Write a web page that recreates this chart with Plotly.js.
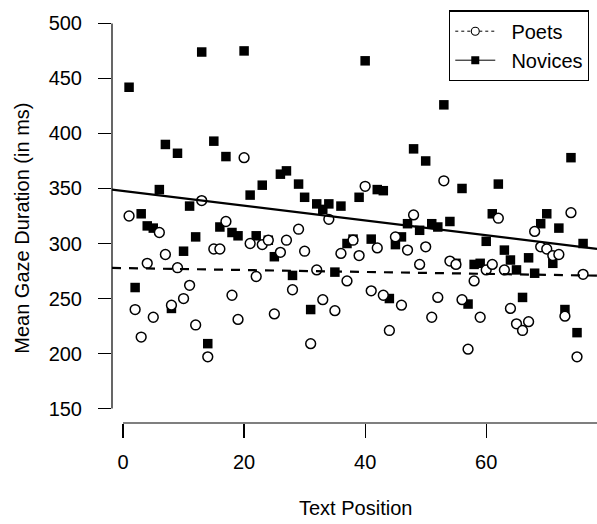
<!DOCTYPE html>
<html>
<head>
<meta charset="utf-8">
<script src="https://cdn.plot.ly/plotly-3.0.1.min.js"></script>
<style>html,body{margin:0;padding:0;background:#fff;}#chart{width:597px;height:524px;}</style>
</head>
<body>
<div id="chart"></div>
<script>
// ---- data ----
var positions = [];
for (var i = 1; i <= 76; i++) positions.push(i);

var poets = [325,240,215,282,233,310,290,244,278,250,
             262,226,339,197,295,295,320,253,231,378,
             300,270,299,303,236,292,303,258,313,293,
             209,276,249,322,239,291,266,303,289,352,
             257,296,253,221,306,244,294,326,281,297,
             233,251,357,284,281,249,204,266,233,276,
             281,323,276,241,227,221,229,311,297,295,
             289,290,234,328,197,272];

var novices = [442,260,327,316,314,349,390,241,382,293,
               334,306,474,209,393,315,379,310,307,475,
               344,307,353,303,288,363,366,271,354,342,
               240,336,331,336,274,334,300,304,342,466,
               304,349,348,250,299,306,318,386,312,375,
               318,315,426,320,282,350,245,281,282,302,
               327,354,294,285,276,251,287,273,318,327,
               282,314,240,378,219,300];

var xTicks = [0, 20, 40, 60];
var yTicks = [150, 200, 250, 300, 350, 400, 450, 500];
var seriesNames = ['Poets', 'Novices'];

// ---- axis ranges (R-style 4% extension) ----
var xRange = [-1.82, 78.3];
var yRange = [136.9, 514];

function fit(xs, ys) {
  var n = xs.length, mx = 0, my = 0;
  for (var i = 0; i < n; i++) { mx += xs[i]; my += ys[i]; }
  mx /= n; my /= n;
  var sxy = 0, sxx = 0;
  for (var i = 0; i < n; i++) { sxy += (xs[i]-mx)*(ys[i]-my); sxx += (xs[i]-mx)*(xs[i]-mx); }
  var b = sxy / sxx;
  return {a: my - b*mx, b: b};
}
var fp = fit(positions, poets);
var fn = fit(positions, novices);
function lineY(f) { return [f.a + f.b*xRange[0], f.a + f.b*xRange[1]]; }

var font = 'Liberation Sans, Arial, Helvetica, sans-serif';
var pad = '\u00a0\u00a0';

var traces = [
  {x: positions, y: novices, type: 'scatter', mode: 'markers', showlegend: false, hoverinfo: 'skip',
   cliponaxis: false,
   marker: {symbol: 'square', size: 9.5, color: '#000', line: {width: 0}}},
  {x: positions, y: poets, type: 'scatter', mode: 'markers', showlegend: false, hoverinfo: 'skip',
   cliponaxis: false,
   marker: {symbol: 'circle', size: 9.8, color: '#fff', line: {width: 1.5, color: '#000'}}},
  {x: xRange, y: lineY(fp), type: 'scatter', mode: 'lines', showlegend: false, hoverinfo: 'skip',
   line: {color: '#000', width: 2.2, dash: '9px,8px'}},
  {x: xRange, y: lineY(fn), type: 'scatter', mode: 'lines', showlegend: false, hoverinfo: 'skip',
   line: {color: '#000', width: 2.2}},
  {x: [null], y: [null], type: 'scatter', mode: 'lines+markers', name: pad + seriesNames[0],
   line: {color: '#000', width: 1, dash: '3px,3px'},
   marker: {symbol: 'circle', size: 8, color: '#fff', line: {width: 1.1, color: '#000'}}},
  {x: [null], y: [null], type: 'scatter', mode: 'lines+markers', name: pad + seriesNames[1],
   line: {color: '#000', width: 1},
   marker: {symbol: 'square', size: 8, color: '#000', line: {width: 0}}}
];

var mL = 112, mR = 0, mT = 8, mB = 101;
var W = 597, H = 524;
function px2paperX(v) { return (v - xRange[0]) / (xRange[1] - xRange[0]); }
function py2paperY(v) { return (v - yRange[0]) / (yRange[1] - yRange[0]); }

var layout = {
  width: W, height: H,
  margin: {l: mL, r: mR, t: mT, b: mB, pad: 0},
  paper_bgcolor: '#fff', plot_bgcolor: '#fff',
  font: {family: font, size: 20, color: '#000'},
  showlegend: true,
  xaxis: {range: xRange, tickvals: xTicks, ticktext: xTicks.map(String), ticks: 'outside', ticklen: 14,
          tickwidth: 1.2, tickcolor: '#000', showgrid: false, zeroline: false, showline: false,
          ticklabelstandoff: 7, tickfont: {size: 20, family: font, color: '#000'}},
  yaxis: {range: yRange, tickvals: yTicks, ticktext: yTicks.map(String), ticks: 'outside', ticklen: 13,
          tickwidth: 1.2, tickcolor: '#000', showgrid: false, zeroline: false, showline: false,
          ticklabelstandoff: 12, tickfont: {size: 20, family: font, color: '#000'}},
  shapes: [
    {type: 'line', xref: 'paper', yref: 'paper', x0: 0, x1: 0,
     y0: py2paperY(yTicks[0]), y1: py2paperY(yTicks[yTicks.length-1]), line: {color: '#000', width: 1.2}},
    {type: 'line', xref: 'paper', yref: 'paper', x0: px2paperX(xTicks[0]), x1: 1, y0: 0, y1: 0,
     line: {color: '#000', width: 1.2}}
  ],
  annotations: [
    {text: 'Text Position', xref: 'paper', yref: 'paper', x: 0.503, y: -0.205, xanchor: 'center', yanchor: 'middle',
     showarrow: false, font: {size: 20, family: font, color: '#000'}},
    {text: 'Mean Gaze Duration (in ms)', xref: 'paper', yref: 'paper', x: -0.186, y: 0.47, xanchor: 'center', yanchor: 'middle',
     textangle: -90, showarrow: false, font: {size: 20, family: font, color: '#000'}}
  ],
  legend: {x: 0.695, y: 0.994, xanchor: 'left', yanchor: 'top', bgcolor: '#fff', bordercolor: '#000', borderwidth: 1.2,
           font: {size: 20, family: font, color: '#000'}, itemwidth: 40, tracegroupgap: 0, entrywidth: 175}
};

Plotly.newPlot('chart', traces, layout, {staticPlot: true, displayModeBar: false});
</script>
</body>
</html>
